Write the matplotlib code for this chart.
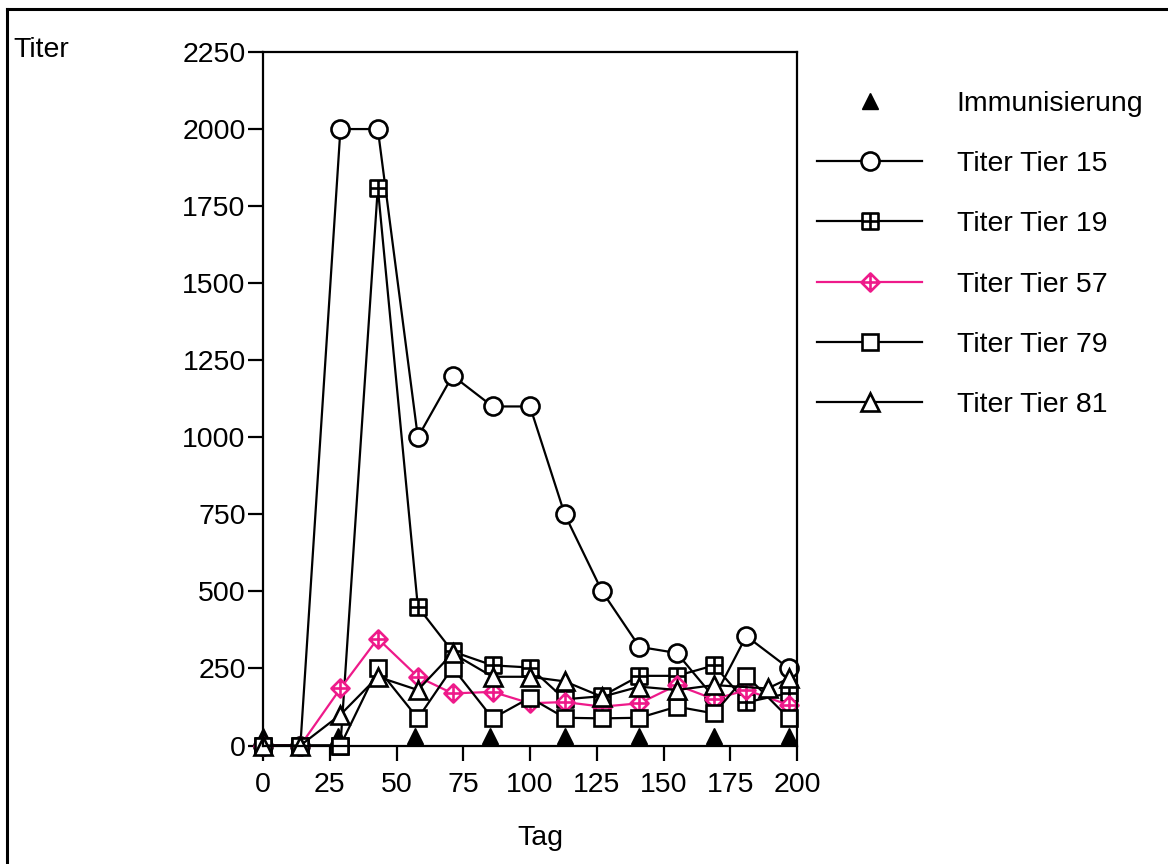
import numpy as np
import matplotlib.pyplot as plt
from matplotlib.path import Path
from matplotlib.lines import Line2D

plt.rcParams['font.family'] = ['Liberation Sans', 'DejaVu Sans']

# Daten
tage = [0, 14, 29, 43, 58, 71, 86, 100, 113, 127, 141, 155, 169, 181, 197]
tage_81 = [0, 14, 29, 43, 58, 71, 86, 100, 113, 127, 141, 155, 169, 189, 197]
immun_tage = [0, 28, 57, 85, 113, 141, 169, 197]
immun_wert = [30, 30, 30, 30, 30, 30, 30, 30]

tier15 = [0, 0, 2000, 2000, 1000, 1200, 1100, 1100, 750, 500, 320, 300, 155, 355, 250]
tier19 = [0, 0, 0, 1810, 450, 305, 260, 253, 150, 160, 226, 226, 260, 140, 170]
tier57 = [0, 0, 185, 347, 223, 169, 174, 137, 141, 126, 137, 196, 150, 180, 131]
tier79 = [0, 0, 0, 250, 88, 253, 88, 155, 90, 88, 90, 126, 104, 227, 88]
tier81 = [0, 0, 100, 223, 180, 299, 223, 223, 208, 158, 191, 180, 196, 185, 218]

pink = '#ee1a8a'


def kreuz_marker(form):
    """Quadrat oder Raute mit Kreuz innen"""
    if form == 'quadrat':
        rand = [(-1, -1), (1, -1), (1, 1), (-1, 1), (-1, -1)]
    else:
        rand = [(0, -1), (1, 0), (0, 1), (-1, 0), (0, -1)]
    verts = rand + [(0, -1), (0, 1), (-1, 0), (1, 0)]
    codes = ([Path.MOVETO] + [Path.LINETO] * 3 + [Path.CLOSEPOLY]
             + [Path.MOVETO, Path.LINETO, Path.MOVETO, Path.LINETO])
    return Path(verts, codes)


fig = plt.figure(figsize=(11.68, 8.64), dpi=100)
ax = fig.add_axes([263 / 1168, 1 - 745.5 / 864, 534 / 1168, 693.5 / 864])

lw = 1.6
kw = dict(lw=lw, mew=1.9, mfc='white', clip_on=False)
ax.plot(immun_tage, immun_wert, ls='none', marker='^', ms=12, color='black',
        label='Immunisierung', clip_on=False, zorder=1)
ax.plot(tage, tier15, color='black', marker='o', ms=13, label='Titer Tier 15', **kw)
ax.plot(tage, tier19, color='black', marker=kreuz_marker('quadrat'), ms=12,
        label='Titer Tier 19', **kw)
ax.plot(tage, tier57, color=pink, marker=kreuz_marker('raute'), ms=13,
        label='Titer Tier 57', **kw)
ax.plot(tage, tier79, color='black', marker='s', ms=12, label='Titer Tier 79', **kw)
ax.plot(tage_81, tier81, color='black', marker='^', ms=13, label='Titer Tier 81', **kw)

ax.set_xlim(0, 200)
ax.set_ylim(0, 2250)
ax.set_xticks(np.arange(0, 201, 25))
ax.set_yticks(np.arange(0, 2251, 250))
ax.tick_params(labelsize=20.5, width=1.6, length=11, direction='out')
ax.tick_params(axis='x', pad=8)
ax.tick_params(axis='y', pad=1.5)
for s in ax.spines.values():
    s.set_linewidth(1.6)

fig.text(13 / 1168, 1 - 50 / 864, 'Titer', fontsize=20.5, va='center', ha='left')
fig.text(540 / 1168, 1 - 838 / 864, 'Tag', fontsize=20.5, va='center', ha='center')

fig.legend(loc='upper left', bbox_to_anchor=(817 / 1168, 1 - 91 / 864),
           frameon=False, fontsize=20.5, handlelength=3.7, handletextpad=1.2,
           labelspacing=1.2, borderpad=0, borderaxespad=0, numpoints=1)

# Rahmen oben und links
fig.add_artist(Line2D([6.5 / 1168, 6.5 / 1168], [0, 1 - 9 / 864], color='black', lw=2.2))
fig.add_artist(Line2D([6.5 / 1168, 1], [1 - 9 / 864, 1 - 9 / 864], color='black', lw=2.2))

fig.savefig('out.png', dpi=100)
